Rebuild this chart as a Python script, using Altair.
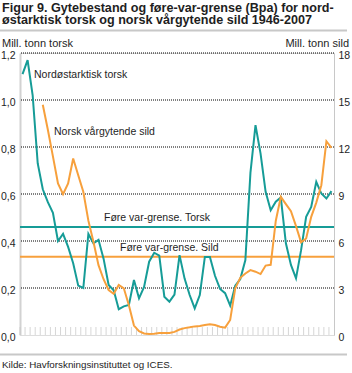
import altair as alt
import pandas as pd

# ---------------- data ----------------
years = list(range(1946, 2008))

cod = [1.11, 1.17, 1.02, 0.73, 0.62, 0.565, 0.52, 0.40, 0.43, 0.375,
       0.305, 0.21, 0.20, 0.43, 0.39, 0.405, 0.325, 0.213, 0.19, 0.11,
       0.122, 0.128, 0.234, 0.156, 0.205, 0.312, 0.35, 0.338, 0.163, 0.142,
       0.172, 0.34, 0.24, 0.17, 0.113, 0.17, 0.332, 0.332, 0.252, 0.196,
       0.178, 0.125, 0.21, 0.238, 0.319, 0.69, 0.893, 0.772, 0.609, 0.531,
       0.567, 0.585, 0.39, 0.298, 0.241, 0.361, 0.503, 0.545, 0.652, 0.602,
       0.581, 0.612]

herring = [None, None, None, None, 14.7, 13.1, 11.4, 9.67, 8.99, 9.67,
           11.27, 10.2, 9.14, 7.3, 5.95, 4.46, 3.56, 2.87, 2.63, 3.19,
           2.98, 1.9, 0.6, 0.25, 0.1, 0.07, 0.08, 0.12, 0.12, 0.13,
           0.2, 0.35, 0.44, 0.49, 0.55, 0.58, 0.64, 0.69, 0.64, 0.53,
           0.47, 0.96, 2.98, 3.65, 3.93, 4.14, 4.04, 3.89, 4.43, 4.48,
           7.28, 8.82, 8.35, 7.9, 6.95, 5.92, 6.16, 7.54, 8.45, 9.56,
           12.37, 11.95]

cod_bpa = [0.46]
herring_bpa = [5.0]

left_ticks = [0.0, 0.2, 0.4, 0.6, 0.8, 1.0, 1.2]
grid_vals = [0.2, 0.4, 0.6, 0.8, 1.0, 1.2]
right_ticks = [0, 3, 6, 9, 12, 15, 18]
label_years = [1946, 1951, 1956, 1961, 1966, 1971, 1976, 1981, 1986, 1991, 1996, 2001, 2006]

title_lines = ["Figur 9. Gytebestand og føre-var-grense (Bpa) for nord-",
               "østarktisk torsk og norsk vårgytende sild 1946-2007"]
left_title = "Mill. tonn torsk"
right_title = "Mill. tonn sild"
source = "Kilde: Havforskningsinstituttet og ICES."
lbl_cod = "Nordøstarktisk torsk"
lbl_herring = "Norsk vårgytende sild"
lbl_cod_bpa = "Føre var-grense. Torsk"
lbl_herring_bpa = "Føre var-grense. Sild"

# ---------------- style ----------------
TEAL = "#169c97"
ORANGE = "#f7a03c"
TXT = "#1e1e1e"
FONT = "Liberation Sans"
W, H = 314, 282

df = pd.DataFrame({"year": years, "cod": cod, "herring": herring})
x_scale = alt.Scale(domain=[1945.5, 2007.5], nice=False, zero=False)
yl = alt.Scale(domain=[0, 1.2], nice=False)
yr = alt.Scale(domain=[0, 18], nice=False)
x_enc = alt.X("year:Q", scale=x_scale,
              axis=alt.Axis(values=label_years, format="d", title=None, ticks=False,
                            domain=False, grid=False, labelFontSize=10, labelColor=TXT,
                            labelFont=FONT, labelPadding=4))

grid = alt.Chart(pd.DataFrame({"v": grid_vals})).mark_rule(
    color="black", strokeDash=[1, 1], strokeWidth=1).encode(
    y=alt.Y("v:Q", scale=yl, axis=None))

ticks = alt.Chart(df).transform_calculate(b="datum.year - 0.5").mark_tick(
    color="#c4c4c4", thickness=1, size=8).encode(
    x=alt.X("b:Q", scale=x_scale, axis=None), y=alt.value(H - 4))

cod_line = alt.Chart(df).mark_line(color=TEAL, strokeWidth=2).encode(
    x=x_enc,
    y=alt.Y("cod:Q", scale=yl,
            axis=alt.Axis(values=left_ticks, format=".1f",
                          labelExpr="replace(datum.label, '.', ',')", title=None,
                          ticks=False, grid=False, domainColor="#d2d2d2", domainWidth=2,
                          labelPadding=5, labelFontSize=10.5, labelColor=TXT,
                          labelFont=FONT, labelOffset=2)))

herring_line = alt.Chart(df).mark_line(color=ORANGE, strokeWidth=2).encode(
    x=alt.X("year:Q", scale=x_scale, axis=None),
    y=alt.Y("herring:Q", scale=yr,
            axis=alt.Axis(orient="right", values=right_ticks, format="d", title=None,
                          ticks=False, grid=False, domainColor="#c8c8c8", domainWidth=1,
                          labelPadding=4, labelFontSize=10.5, labelColor=TXT,
                          labelFont=FONT, labelOffset=2)))

cod_bpa_rule = alt.Chart(pd.DataFrame({"v": cod_bpa})).mark_rule(
    color=TEAL, strokeWidth=2).encode(y=alt.Y("v:Q", scale=yl, axis=None))
her_bpa_rule = alt.Chart(pd.DataFrame({"v": herring_bpa})).mark_rule(
    color=ORANGE, strokeWidth=2).encode(y=alt.Y("v:Q", scale=yr, axis=None))


def txt(s, x, y, size, bold=False, align="left"):
    return alt.Chart(pd.DataFrame({"t": [s]})).mark_text(
        font=FONT, fontSize=size, fontWeight="bold" if bold else "normal",
        color=TXT, align=align, baseline="alphabetic").encode(
        text="t:N", x=alt.value(x), y=alt.value(y))


def hline(y, x1, x2):
    return alt.Chart(pd.DataFrame({"a": [0]})).mark_rule(
        color="#c8c8c8", strokeWidth=2).encode(
        x=alt.value(x1), x2=alt.value(x2), y=alt.value(y))


texts = [
    txt(title_lines[0], -18, -41.5, 12.6, bold=True),
    txt(title_lines[1], -18, -29, 12.6, bold=True),
    txt(left_title, -18, -6, 11),
    txt(right_title, 329, -6, 11, align="right"),
    txt(lbl_cod, 14, 25, 10.5),
    txt(lbl_herring, 34, 82, 10.5),
    txt(lbl_cod_bpa, 84, 168, 10.5),
    txt(lbl_herring_bpa, 100, 198, 10.5),
    txt(source, -18, 315, 9.8),
]

chart = alt.layer(
    grid, ticks, cod_bpa_rule, her_bpa_rule, cod_line, herring_line,
    hline(-22.5, -20, 327), hline(301.5, -20, 327), *texts
).resolve_scale(y="independent").properties(
    width=W, height=H, autosize="none",
    padding={"left": 20, "top": 53, "right": 18, "bottom": 38}
).configure_view(stroke=None).configure(background="white")

chart.save("out.html", embed_options={"renderer": "svg", "actions": False})
